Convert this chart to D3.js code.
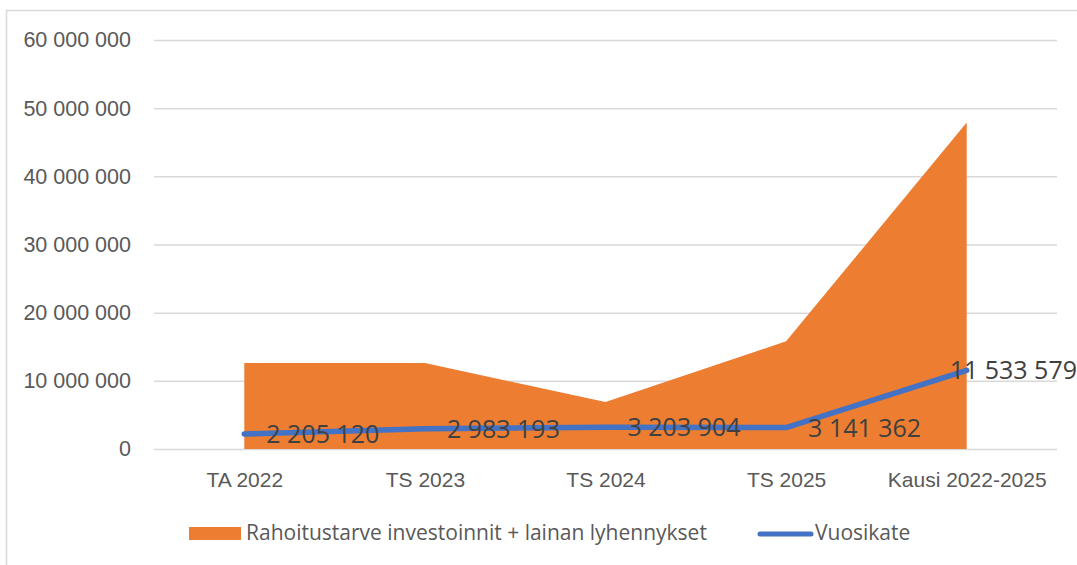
<!DOCTYPE html>
<html>
<head>
<meta charset="utf-8">
<script src="https://cdn.jsdelivr.net/npm/d3@7"></script>
<style>
  html, body { margin: 0; padding: 0; background: #fff; }
  svg { display: block; font-family: "Open Sans", sans-serif; }
</style>
</head>
<body>
<div id="chart"></div>
<script>
const categories = ['TA 2022', 'TS 2023', 'TS 2024', 'TS 2025', 'Kausi 2022-2025'];
const rahoitustarve = [12600000, 12600000, 6900000, 15800000, 47900000];
const vuosikate = [2205120, 2983193, 3203904, 3141362, 11533579];
const yTicks = [0, 10000000, 20000000, 30000000, 40000000, 50000000, 60000000];
const seriesNames = ['Rahoitustarve investoinnit + lainan lyhennykset', 'Vuosikate'];

const W = 1077, H = 565;
const plot = { left: 154, right: 1057, top: 40, bottom: 449 };

const locale = d3.formatLocale({ decimal: ',', thousands: ' ', grouping: [3], currency: ['', ''] });
const fmt = locale.format(',');

const svg = d3.select('#chart').append('svg')
    .attr('width', W)
    .attr('height', H);

// chart border
svg.append('rect')
    .attr('x', 6.5).attr('y', 10.5)
    .attr('width', W + 10).attr('height', H + 10)
    .attr('fill', 'none')
    .attr('stroke', '#d9d9d9')
    .attr('stroke-width', 1.5);

const x = d3.scalePoint()
    .domain(categories)
    .range([plot.left, plot.right])
    .padding(0.5);

const y = d3.scaleLinear()
    .domain([0, 60000000])
    .range([plot.bottom, plot.top]);

// y axis with gridlines
const yAxis = svg.append('g')
    .attr('transform', `translate(${plot.left},0)`)
    .call(d3.axisLeft(y).tickValues(yTicks).tickFormat(fmt)
        .tickSize(-(plot.right - plot.left)).tickPadding(23));
yAxis.select('.domain').remove();
yAxis.selectAll('line').attr('stroke', '#d9d9d9').attr('stroke-width', 1.5);
yAxis.selectAll('text')
    .attr('fill', '#595959')
    .style('font-size', '21.5px');

// x axis labels
const xAxis = svg.append('g')
    .attr('transform', `translate(0,${plot.bottom})`)
    .call(d3.axisBottom(x).tickSize(0).tickPadding(23));
xAxis.select('.domain').remove();
xAxis.selectAll('text')
    .attr('fill', '#595959')
    .style('font-size', '21px');

// area
const area = d3.area()
    .x((d, i) => x(categories[i]))
    .y0(y(0))
    .y1(d => y(d));

svg.append('path')
    .datum(rahoitustarve)
    .attr('d', area)
    .attr('fill', '#ed7d31');

// line
const line = d3.line()
    .x((d, i) => x(categories[i]))
    .y(d => y(d));

svg.append('path')
    .datum(vuosikate)
    .attr('d', line)
    .attr('fill', 'none')
    .attr('stroke', '#4472c4')
    .attr('stroke-width', 5.5)
    .attr('stroke-linecap', 'round')
    .attr('stroke-linejoin', 'round');

// data labels, to the right of each point
svg.append('g')
    .selectAll('text')
    .data(vuosikate)
    .join('text')
    .attr('x', (d, i) => x(categories[i]) + 22)
    .attr('y', d => y(d))
    .attr('dy', '0.36em')
    .attr('fill', '#404040')
    .style('font-size', '25px')
    .text(d => fmt(d))
    .each(function () {
        // keep label inside the chart like Excel does
        const len = this.getComputedTextLength();
        const x0 = +this.getAttribute('x');
        if (x0 + len > W) this.setAttribute('x', W - len);
    });

// legend
const legend = svg.append('g');
legend.append('rect')
    .attr('x', 189).attr('y', 527)
    .attr('width', 52).attr('height', 13)
    .attr('fill', '#ed7d31');
legend.append('text')
    .attr('x', 246).attr('y', 540)
    .attr('fill', '#595959')
    .style('font-size', '21px')
    .text(seriesNames[0]);
legend.append('line')
    .attr('x1', 760).attr('x2', 811)
    .attr('y1', 534).attr('y2', 534)
    .attr('stroke', '#4472c4')
    .attr('stroke-width', 5)
    .attr('stroke-linecap', 'round');
legend.append('text')
    .attr('x', 815).attr('y', 540)
    .attr('fill', '#595959')
    .style('font-size', '21px')
    .text(seriesNames[1]);
</script>
</body>
</html>
